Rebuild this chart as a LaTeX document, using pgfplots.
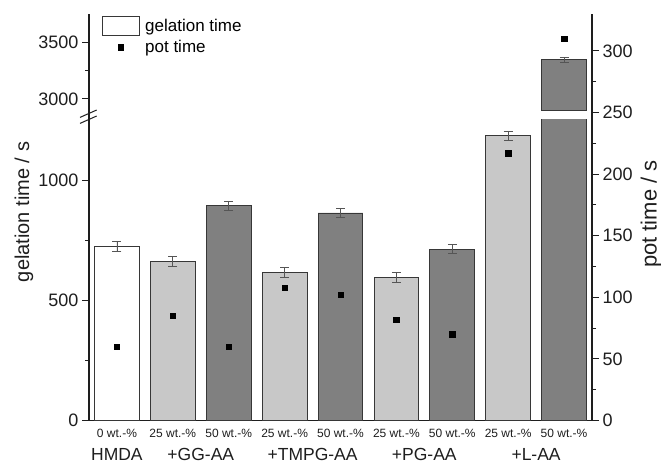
\documentclass[border=0pt]{standalone}
\usepackage{pgfplots}
\pgfplotsset{compat=1.18}
\usepackage{pgfplotstable}
\usepackage{fontspec}
\setmainfont{Liberation Sans}
\definecolor{lightbar}{RGB}{200,200,200}
\definecolor{darkbar}{RGB}{128,128,128}
\definecolor{edgec}{RGB}{55,55,55}
\definecolor{errc}{RGB}{85,85,85}
\definecolor{axc}{RGB}{30,30,30}

\pgfplotstableread{
x gel err pot
0 725 20 60
}\tabwhite
\pgfplotstableread{
x gel err pot
1 662 20 85
3 616 20 108
5 594 20 82
7 1184 20 217
}\tablight
\pgfplotstableread{
x gel err pot
2 893 20 60
4 863 20 102
6 713 20 70
8 3345 20 310
}\tabdark

\pgfplotsset{
  common/.style={
    scale only axis, width=503pt, xmin=-0.5, xmax=8.5,
    anchor=south west,
    tick align=outside,
    major tick length=7pt, minor tick length=4pt,
    axis line style={draw=axc, line width=1.1pt},
    every tick/.style={draw=axc, line width=1pt},
    /pgf/number format/assume math mode=true,
    /pgf/number format/1000 sep={},
    ticklabel style={font=\fontsize{18}{18}\selectfont, text=axc},
  },
  barstyle/.style={ybar, bar width=0.8, bar shift=0pt, draw=edgec, line width=0.9pt,
    error bars/.cd, y dir=both, y explicit,
    error bar style={errc, line width=0.8pt},
    error mark options={rotate=90, mark size=4.5pt, errc, line width=0.8pt}},
  boxlegend/.style={legend image code/.code={\draw[##1] (0pt,-9.65pt) rectangle (37.6pt,9.65pt);}},
  marklegend/.style={legend image code/.code={\draw[##1] plot coordinates {(18.8pt,0pt)};}},
}
\newcommand{\allbars}{%
  \addplot[fill=white, barstyle] table[x=x, y=gel, y error=err]{\tabwhite};
  \addplot[fill=lightbar, barstyle] table[x=x, y=gel, y error=err]{\tablight};
  \addplot[fill=darkbar, barstyle] table[x=x, y=gel, y error=err]{\tabdark};
}

\begin{document}
\begin{tikzpicture}
\path[use as bounding box] (0,0) rectangle (661pt,464pt);

% lower segment
\begin{axis}[common, at={(89pt,43.5pt)}, height=300.6pt,
  ymin=0, ymax=1250,
  axis x line*=bottom, axis y line*=left,
  ytick={0,500,1000}, minor y tick num=1,
  xtick={0,...,8}, xtick style={draw=none},
  xticklabels={0 wt.-\%,25 wt.-\%,50 wt.-\%,25 wt.-\%,50 wt.-\%,25 wt.-\%,50 wt.-\%,25 wt.-\%,50 wt.-\%},
  xticklabel style={font=\fontsize{12}{12}\selectfont, yshift=2pt},
]
\allbars
\end{axis}

% upper segment
\begin{axis}[common, at={(89pt,353.7pt)}, height=96.3pt,
  ymin=2900, ymax=3750,
  hide x axis, axis y line*=left,
  ytick={3000,3500}, minor y tick num=1,
  restrict y to domain=2900:4000,
]
\allbars
\end{axis}

% right axis: pot time
\begin{axis}[common, at={(89pt,43.5pt)}, height=406.5pt,
  ymin=0, ymax=330,
  hide x axis, axis y line*=right,
  ytick={0,50,...,300}, minor y tick num=1,
  legend style={at={(axis description cs:0.0252,0.995)}, anchor=north west, draw=none, fill=none,
    inner sep=0pt, outer sep=0pt, font=\fontsize{17}{17}\selectfont, row sep=2pt,
    /tikz/every odd column/.append style={column sep=3pt}},
  legend cell align=left,
]
\addlegendimage{fill=white, draw=edgec, line width=0.9pt, boxlegend}
\addlegendentry{gelation time}
\addplot[only marks, mark=square*, mark size=2.7pt, color=black, marklegend]
  table[x=x, y=pot]{\tabwhite};
\addlegendentry{pot time}
\addplot[only marks, mark=square*, mark size=2.7pt, color=black, forget plot] table[x=x, y=pot]{\tablight};
\addplot[only marks, mark=square*, mark size=2.7pt, color=black, forget plot] table[x=x, y=pot]{\tabdark};
\end{axis}

% axis break on the left axis
\draw[axc, line width=1.1pt] (89pt,344.1pt) -- (89pt,353.7pt);
\draw[axc, line width=1pt] (80pt,346.6pt) -- (96.7pt,354pt);
\draw[axc, line width=1pt] (80pt,340.6pt) -- (96.7pt,348pt);

% axis titles
\node[rotate=90, font=\fontsize{20}{20}\selectfont, text=axc] at (24pt,252pt) {gelation time / s};
\node[rotate=90, font=\fontsize{22}{22}\selectfont, text=axc] at (651pt,250pt) {pot time / s};

% group labels
\foreach \xx/\lab in {116.9/HMDA, 200.8/+GG-AA, 312.6/+TMPG-AA, 424.3/+PG-AA, 536.1/+L-AA}
  \node[anchor=base, font=\fontsize{17.5}{17.5}\selectfont, text=axc, inner sep=0pt] at (\xx pt,4pt) {\lab};
\end{tikzpicture}
\end{document}
